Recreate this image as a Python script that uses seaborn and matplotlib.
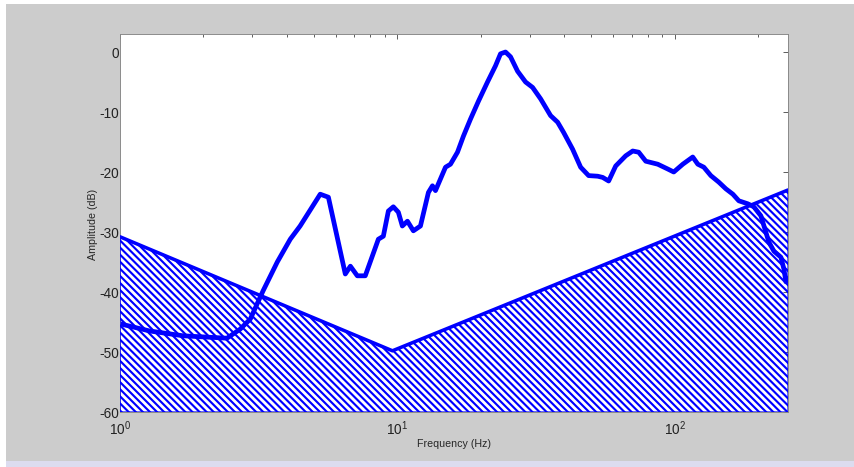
import numpy as np
import pandas as pd
import seaborn as sns
import matplotlib
matplotlib.use("Agg")
import matplotlib.pyplot as plt
from matplotlib.patches import Rectangle

# Measured response (frequency in Hz, amplitude in dB)
freq_hz = [1.0, 1.28, 1.69, 2.43, 2.71, 2.95, 3.12, 3.28, 3.69, 4.11, 4.46,
           5.27, 5.64, 6.49, 6.77, 7.17, 7.66, 8.54, 8.90, 9.28, 9.67, 10.08,
           10.42, 10.87, 11.42, 12.11, 12.94, 13.38, 13.72, 14.91, 15.54,
           16.47, 17.31, 18.34, 19.60, 21.13, 22.58, 23.54, 24.54, 25.58,
           27.12, 28.98, 30.72, 32.83, 35.67, 37.82, 39.74, 42.83, 45.78,
           48.92, 52.72, 54.97, 57.77, 61.24, 66.55, 70.53, 74.13, 78.60,
           86.82, 94.34, 99.17, 106.9, 116.1, 121.1, 127.3, 134.9, 144.2,
           152.8, 162.0, 170.2, 183.4, 192.8, 204.4, 218.5, 227.8, 241.4,
           247.5, 251.6]
amplitude_db = [-45.3, -46.5, -47.3, -47.7, -46.2, -44.5, -42.0, -39.8, -35.0,
                -31.2, -29.0, -23.7, -24.2, -37.0, -35.7, -37.3, -37.3, -31.2,
                -30.7, -26.5, -25.8, -26.7, -29.0, -28.2, -29.8, -29.0, -23.4,
                -22.3, -23.1, -19.2, -18.7, -16.7, -14.0, -11.2, -8.2, -5.0,
                -2.3, -0.3, 0.0, -0.8, -3.2, -5.0, -5.9, -7.8, -10.6, -11.7,
                -13.4, -16.2, -19.2, -20.6, -20.7, -20.9, -21.5, -19.0, -17.3,
                -16.5, -16.7, -18.2, -18.7, -19.5, -20.0, -18.7, -17.5, -18.7,
                -19.2, -20.6, -21.7, -22.8, -23.7, -24.8, -25.3, -25.8, -27.3,
                -31.7, -33.2, -34.2, -36.2, -38.3]

# Threshold curve (hatched region below it)
thresh_hz = [1.0, 9.6, 256.0]
thresh_db = [-30.8, -49.8, -23.0]

x_ticks = [1, 10, 100]
y_ticks = [0, -10, -20, -30, -40, -50, -60]

sns.set_theme(style="white")
plt.rcParams["font.family"] = ["Liberation Sans", "DejaVu Sans"]
plt.rcParams["axes.unicode_minus"] = False
plt.rcParams["hatch.linewidth"] = 1.8
plt.rcParams["hatch.color"] = "#1616b0"
plt.rcParams["xtick.direction"] = "in"
plt.rcParams["ytick.direction"] = "in"

fig = plt.figure(figsize=(10, 5.48), dpi=85.4, facecolor="#cccccc")
# light frame strips around the grey panel
fig.patches.append(Rectangle((0, 0), 1, 6 / 468, transform=fig.transFigure,
                             facecolor="#dcdcef", edgecolor="none", zorder=-1))
fig.patches.append(Rectangle((0, 0), 6 / 854, 1, transform=fig.transFigure,
                             facecolor="white", edgecolor="none", zorder=-1))
fig.patches.append(Rectangle((0, 1 - 5 / 468), 1, 5 / 468, transform=fig.transFigure,
                             facecolor="white", edgecolor="none", zorder=-1))

ax = fig.add_axes([120 / 854, 1 - 413 / 468, 668 / 854, 378 / 468])
ax.set_facecolor("white")

resp = pd.DataFrame({"freq": freq_hz, "amp": amplitude_db})
sns.lineplot(data=resp, x="freq", y="amp", ax=ax, color="#0000ff",
             linewidth=4.0, solid_joinstyle="round", solid_capstyle="round",
             zorder=2)

thr = pd.DataFrame({"freq": thresh_hz, "amp": thresh_db})
ax.fill_between(thr["freq"], thr["amp"], -60, facecolor="none",
                edgecolor="#0000ff", hatch="\\\\\\\\", linewidth=1.0, zorder=3)
sns.lineplot(data=thr, x="freq", y="amp", ax=ax, color="#0000ff",
             linewidth=3.0, zorder=4)

ax.set_xscale("log")
ax.set_xlim(1, 256)
ax.set_ylim(-60, 3)
ax.set_xticks(x_ticks)
ax.set_yticks(y_ticks)
ax.tick_params(axis="both", which="both", top=True, right=True,
               labelsize=11.5, colors="#222222", length=4, width=0.6, pad=1)
ax.tick_params(axis="x", which="major", pad=5)
ax.tick_params(axis="both", which="minor", length=2.5)
for s in ax.spines.values():
    s.set_color("#888888")
    s.set_linewidth(0.8)

ax.set_xlabel("Frequency (Hz)", fontsize=9, labelpad=1)
ax.set_ylabel("Amplitude (dB)", fontsize=9, labelpad=1)

fig.savefig("out.png", dpi=85.4, facecolor=fig.get_facecolor())
